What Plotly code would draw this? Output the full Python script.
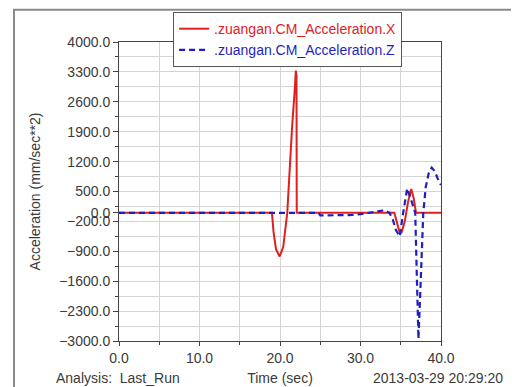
import plotly.graph_objects as go

# ---- data ----
time_x = [0.0, 19.0, 19.2, 19.5, 19.95, 20.4, 20.9, 21.2, 21.5, 21.8, 21.97, 22.05, 22.08,
          34.2, 34.5, 34.8, 35.07, 35.5, 35.9, 36.3, 36.6, 36.9, 40.0]
accel_x = [0, 0, -450, -850, -1020, -800, 0, 1100, 2000, 2800, 3330, 3200, 0,
           0, -200, -420, -475, -200, 250, 560, 350, 0, 0]

time_z = [0.0, 24.8, 25.0, 27.0, 29.0, 30.0, 31.0, 32.0, 33.0, 33.6, 34.0, 34.4, 34.87,
          35.3, 35.8, 36.3, 36.8, 37.0, 37.2, 37.4, 37.6, 37.8, 38.1, 38.5, 38.85, 39.2, 39.6, 40.0]
accel_z = [0, 0, -60, -60, -50, -30, 0, 30, 60, 0, -150, -400, -550,
           0, 575, 300, 0, -1500, -2950, -2000, -1000, 0, 600, 950, 1060, 980, 800, 650]

name_x = ".zuangan.CM_Acceleration.X"
name_z = ".zuangan.CM_Acceleration.Z"

y_tickvals = [-3000, -2300, -1600, -900, -200, 0, 500, 1200, 1900, 2600, 3300, 4000]
y_minor = [-3000 + 350 * i for i in range(21)]
x_tickvals = [0, 10, 20, 30, 40]
x_minor = [0, 5, 10, 15, 20, 25, 30, 35, 40]

red = "#e0201e"
blue = "#1f1fc0"
FAM = "Liberation Sans, Arial, sans-serif"
TXT = "#3a3a3a"

fig = go.Figure()
fig.add_trace(go.Scatter(x=time_x, y=accel_x, mode="lines",
                         name=f'<span style="color:{red}">{name_x}</span>',
                         line=dict(color=red, width=2)))
fig.add_trace(go.Scatter(x=time_z, y=accel_z, mode="lines",
                         name=f'<span style="color:{blue}">{name_z}</span>',
                         line=dict(color=blue, width=2.2, dash="6px,4px")))

axis_font = dict(family=FAM, size=14, color=TXT)

# the page body adds an 8px offset, so the figure is 8px smaller than the window
fig.update_layout(
    width=511, height=379,
    margin=dict(l=111, r=78, t=34, b=46, autoexpand=False),
    paper_bgcolor="white", plot_bgcolor="white",
    font=axis_font,
    showlegend=True,
    legend=dict(x=0.168, y=1.1, xanchor="left", yanchor="top",
                bgcolor="white", bordercolor="#555555", borderwidth=1,
                font=dict(family=FAM, size=14), tracegroupgap=0, itemwidth=30),
    xaxis=dict(range=[0, 40], tickmode="array", tickvals=x_tickvals, tickformat=".1f",
               showgrid=False, zeroline=False, showline=True, linecolor="#444444",
               linewidth=1, mirror=True, ticks="outside", ticklen=4, tickcolor="#444444",
               tickfont=dict(family=FAM, size=14, color=TXT),
               minor=dict(tickmode="array", tickvals=x_minor, showgrid=True,
                          gridcolor="#d4d4d4", gridwidth=1, ticks="outside", ticklen=3,
                          tickcolor="#444444"),
               title=dict(text="Time (sec)", standoff=8,
                          font=dict(family=FAM, size=14, color=TXT))),
    yaxis=dict(range=[-3000, 4000], tickmode="array", tickvals=y_tickvals, tickformat=".1f",
               showgrid=False, zeroline=False, showline=True, linecolor="#444444",
               linewidth=1, mirror=True, ticks="outside", ticklen=5, tickcolor="#444444",
               tickfont=dict(family=FAM, size=14, color=TXT),
               minor=dict(tickmode="array", tickvals=y_minor, showgrid=True,
                          gridcolor="#d4d4d4", gridwidth=1, ticks="outside", ticklen=3,
                          tickcolor="#444444"),
               title=dict(text="Acceleration (mm/sec**2)", standoff=15,
                          font=dict(family=FAM, size=14, color=TXT))),
)

fig.add_annotation(text="Analysis:  Last_Run", xref="paper", yref="paper",
                   x=-0.202, y=-0.123, xanchor="left", yanchor="middle", showarrow=False,
                   font=axis_font)
fig.add_annotation(text="2013-03-29 20:29:20", xref="paper", yref="paper",
                   x=1.2, y=-0.123, xanchor="right", yanchor="middle", showarrow=False,
                   font=axis_font)

# outer frame
fig.add_shape(type="rect", xref="paper", yref="paper",
              x0=-0.326, x1=1.25, y0=-0.2, y1=1.108,
              line=dict(color="#8a8a8a", width=2), fillcolor="rgba(0,0,0,0)", layer="below")

fig.write_html("out.html")
